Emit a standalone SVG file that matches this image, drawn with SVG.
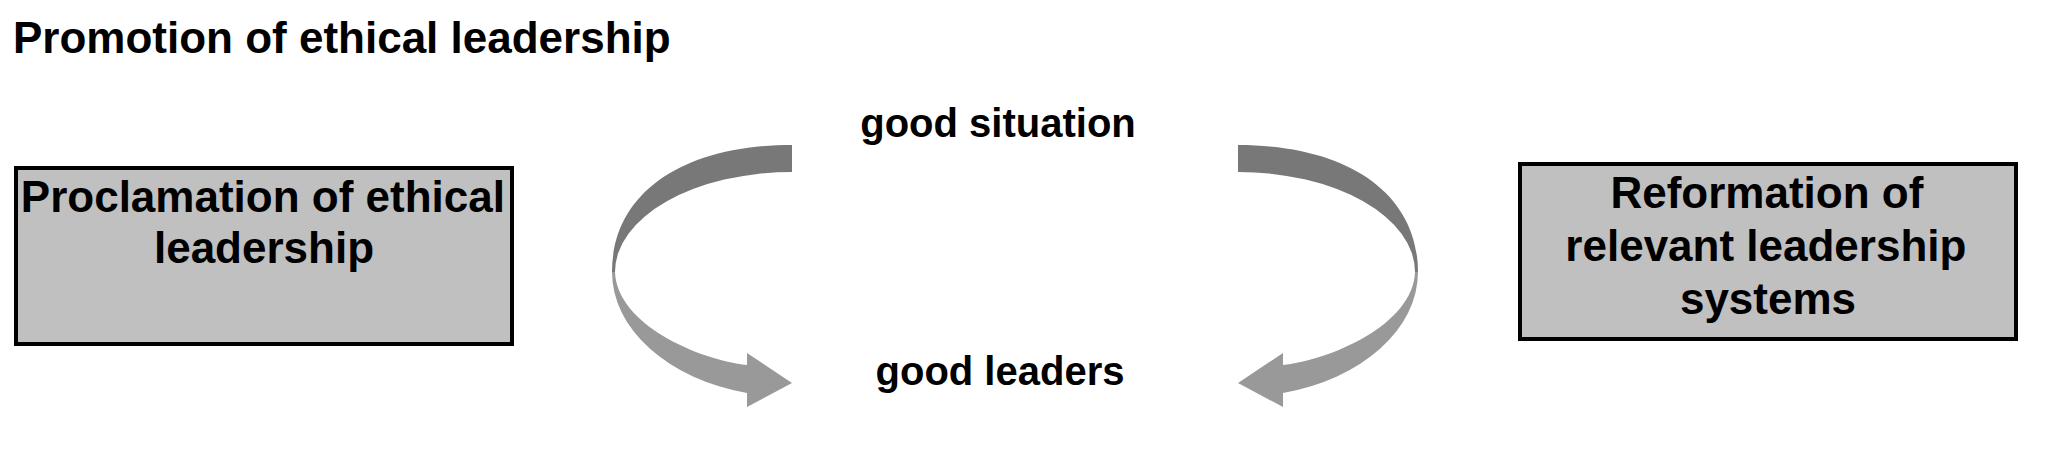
<svg xmlns="http://www.w3.org/2000/svg" width="2056" height="474" viewBox="0 0 2056 474">
  <style>
    .t { font-family: "Liberation Sans", Arial, sans-serif; font-weight: bold; fill: #000; }
    .box { fill: #c0c0c0; stroke: #000; stroke-width: 4; }
    .back { fill: #787878; }
    .front { fill: #999999; }
  </style>
  <defs>
    <g id="curvedArrow">
      <path class="back" d="M 792 145 C 680 145 612 195 612 272 L 615 272 A 177 100 0 0 1 792 172 Z"/>
      <path class="front" d="M 612 272 A 180 125 0 0 0 747 393 L 747 407 L 792 383 L 747 353 L 747 365 C 700 360 617 325 615 272 Z"/>
    </g>
  </defs>
  <rect width="2056" height="474" fill="#fff"/>

  <g id="title">
    <text class="t" x="13" y="53" font-size="44">Promotion of ethical leadership</text>
  </g>

  <g id="node-proclamation">
    <rect class="box" x="16" y="168" width="496" height="176"/>
    <text class="t" font-size="44" text-anchor="middle">
      <tspan x="269" y="212">Proclamation of ethical</tspan>
      <tspan x="264" y="263">leadership</tspan>
    </text>
  </g>

  <g id="node-reformation">
    <rect class="box" x="1520" y="164" width="496" height="175"/>
    <text class="t" font-size="44" text-anchor="middle">
      <tspan x="1773" y="208">Reformation of</tspan>
      <tspan x="1772" y="261">relevant leadership</tspan>
      <tspan x="1768" y="314">systems</tspan>
    </text>
  </g>

  <g id="node-good-situation">
    <text class="t" x="998" y="137" font-size="40" text-anchor="middle">good situation</text>
  </g>

  <g id="node-good-leaders">
    <text class="t" x="1000" y="385" font-size="40" text-anchor="middle">good leaders</text>
  </g>

  <g id="connectors">
    <use href="#curvedArrow"/>
    <use href="#curvedArrow" transform="matrix(-1 0 0 1 2030 0)"/>
  </g>
</svg>
